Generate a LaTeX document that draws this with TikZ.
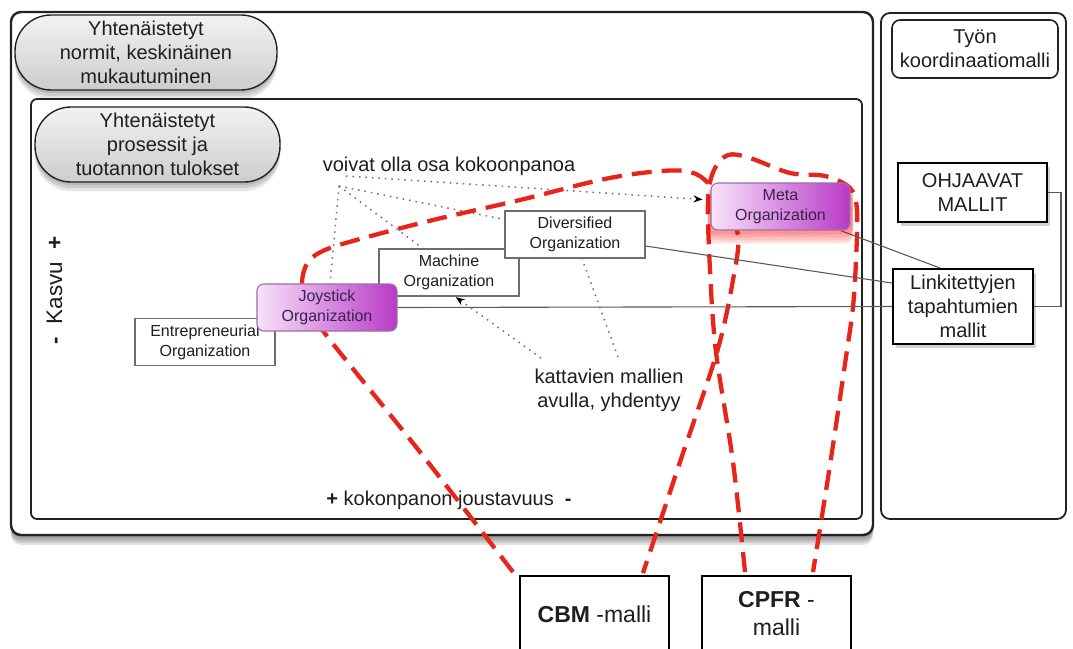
\documentclass[tikz,border=0pt]{standalone}
\usepackage{fontspec}
\setmainfont{Liberation Sans}
\usetikzlibrary{shadows,arrows.meta}

\definecolor{ink}{HTML}{1E1E1E}
\definecolor{frame}{HTML}{222222}
\definecolor{boxgray}{HTML}{6E6E6E}
\definecolor{linkgray}{HTML}{5A5A5A}
\definecolor{dotgray}{HTML}{707070}
\definecolor{redline}{HTML}{E8251B}
\definecolor{purpleL}{HTML}{F8E2FA}
\definecolor{purpleM}{HTML}{D98AE2}
\definecolor{purpleR}{HTML}{B83AC6}
\definecolor{purpleE}{HTML}{9A6FA6}
\definecolor{purpleT}{HTML}{3C1F52}
\definecolor{pillTop}{HTML}{F2F2F2}
\definecolor{pillBot}{HTML}{CDCDCD}

\pgfdeclarelayer{back}
\pgfdeclarelayer{wires}
\pgfsetlayers{back,wires,main}

\tikzset{
  soft/.style={drop shadow={shadow xshift=0pt, shadow yshift=-#1pt, opacity=.10, fill=black}},
  bigtxt/.style={font=\fontsize{20}{24}\selectfont, text=ink, align=center},
  orgbox/.style={draw=boxgray, line width=1.1pt, fill=white, text=ink,
    font=\fontsize{16}{20}\selectfont, align=center, inner sep=0pt,
    minimum width=140pt, minimum height=47pt},
  purplebox/.style={orgbox, rounded corners=7pt, draw=purpleE,
    left color=purpleL, middle color=purpleM, right color=purpleR, text=purpleT},
  redglow/.style={drop shadow={shadow xshift=0pt, shadow yshift=-#1pt, shadow scale=1.04,
    opacity=.13, fill=red}},
  glow/.style={redglow=3, redglow=6, redglow=9, redglow=12},
  pill/.style={draw=frame, line width=1.4pt, rounded corners=36pt,
    top color=pillTop, bottom color=pillBot, bigtxt, inner sep=0pt,
    soft=3, soft=6, soft=9},
  modelbox/.style={draw=black, line width=2pt, fill=white, bigtxt, inner sep=0pt,
    drop shadow={shadow xshift=3pt, shadow yshift=-4pt, opacity=.18, fill=black}},
  framebox/.style={draw=frame, fill=white},
  wire/.style={draw=linkgray, line width=1.1pt},
  dotline/.style={draw=dotgray, line width=1.5pt, dash pattern=on 1.5pt off 5pt},
  reddash/.style={draw=redline, line width=4.3pt, dash pattern=on 20pt off 10pt},
  tip/.style={-{Stealth[length=9pt,width=7pt,color=black]}},
  mallibox/.style={draw=black, line width=2pt, fill=white, anchor=north,
    minimum width=149pt, minimum height=76pt, font=\fontsize{23}{28}\selectfont,
    align=center, inner sep=0pt, text=ink},
}

\begin{document}
\begin{tikzpicture}[x=1pt,y=-1pt]
\useasboundingbox (0,0) rectangle (1073,648);
\clip (0,0) rectangle (1073,648);

% frames
\begin{pgfonlayer}{back}
  \fill[white] (0,0) rectangle (1073,648);
  \draw[framebox, line width=2.4pt, rounded corners=10pt, soft=2, soft=4, soft=6, soft=8, soft=10]
    (11,12) rectangle (873,535);
  \draw[framebox, line width=1.8pt, rounded corners=6pt] (31,99) rectangle (862,519);
  \draw[framebox, line width=1.8pt, rounded corners=9pt] (881,13) rectangle (1066,519);
\end{pgfonlayer}

% labels of the frames
\node[pill, minimum width=262pt, minimum height=75pt] (norm) at (146,52.5)
  {Yhtenäistetyt\\normit, keskinäinen\\mukautuminen};
\node[pill, minimum width=245pt, minimum height=75pt] (proc) at (157.5,144.5)
  {Yhtenäistetyt\\prosessit ja\\tuotannon tulokset};
\node[draw=frame, line width=1.6pt, rounded corners=8pt, fill=white, bigtxt,
  minimum width=166pt, minimum height=58pt, inner sep=0pt] (tyon) at (975,49)
  {Työn\\koordinaatiomalli};

% model boxes on the right
\node[modelbox, minimum width=149pt, minimum height=59pt] (ohj) at (972.5,192.5) {OHJAAVAT\\MALLIT};
\node[modelbox, minimum width=140pt, minimum height=75pt] (link) at (963,306.5)
  {Linkitettyjen\\tapahtumien\\mallit};

% organisation types
\node[orgbox] (ent) at (205,342) {Entrepreneurial\\Organization};
\node[orgbox] (mach) at (449,272.5) {Machine\\Organization};
\node[orgbox] (div) at (575,234.5) {Diversified\\Organization};
\node[purplebox] (joy) at (327,307.5) {Joystick\\Organization};
\node[purplebox, glow, minimum width=139pt] (meta) at (780.5,206.5) {Meta\\Organization};

% axis texts and notes
\node[font=\fontsize{22.5}{27}\selectfont, text=ink, rotate=90, anchor=base] (kasvu) at (62,290)
  {\textbf{-}\ \ Kasvu\ \ \textbf{+}};
\node[bigtxt, anchor=base] (joust) at (449,505) {\textbf{+} kokonpanon joustavuus\ \ \textbf{-}};
\node[bigtxt, anchor=base] (voivat) at (449,171) {voivat olla osa kokoonpanoa};
\node[bigtxt] (katt) at (609,390) {kattavien mallien\\avulla, yhdentyy};

% model boxes at the bottom
\node[mallibox] (cbm) at (594.5,575) {\textbf{CBM} -malli};
\node[mallibox] (cpfr) at (776.5,575) {\textbf{CPFR} -\\malli};

\coordinate (voiA) at (346,176);
\coordinate (voiB) at (339,186);
\coordinate (katA) at (541,358);
\coordinate (katB) at (618,357);

\begin{pgfonlayer}{wires}
  % dotted notes
  \draw[dotline, tip, shorten >=8pt] (voiA) -- ([yshift=6.5pt]meta.west);
  \draw[dotline] (voiB) -- ([yshift=-9pt]div.north west);
  \draw[dotline] (voiB) -- ([xshift=-26pt]mach.north);
  \draw[dotline] (voiB) -- ([xshift=3pt]joy.north);
  \draw[dotline, tip, shorten >=1pt] (katA) -- ([xshift=6pt]mach.south);
  \draw[dotline] (katB) -- ([xshift=7pt]div.south);

  % CBM scope
  \draw[reddash] plot[smooth, tension=0.55] coordinates {
    (513,572) (420,452) (330,340) (306,305) (302,282) (308,262) (325,250)
    (360,239) (433,220) (520,200) (600,180) (650,172) (685,171) (705,180)
    (722,205) (738,235) (733,280) (717,352) (680,462) (643,573)};
  % CPFR scope
  \draw[reddash] plot[smooth, tension=0.55] coordinates {
    (745,572) (733,462) (716,352) (710,270) (708,200) (714,170) (728,155)
    (750,158) (790,173) (825,176) (850,188) (857,210) (856,260) (853,307)
    (846,357) (830,465) (813,572)};

  % solid links to the linked event models
  \draw[wire] ([xshift=-10pt]meta.south east) -- ([xshift=-23pt]link.north);
  \draw[wire] ([yshift=-11.5pt]div.east) -- ([yshift=23.5pt]link.west);
  \draw[wire] (joy.east) -- (link.west);
  \draw[wire] (ohj.east) -- ++(13,0) |- (link.east);
\end{pgfonlayer}
\end{tikzpicture}
\end{document}
